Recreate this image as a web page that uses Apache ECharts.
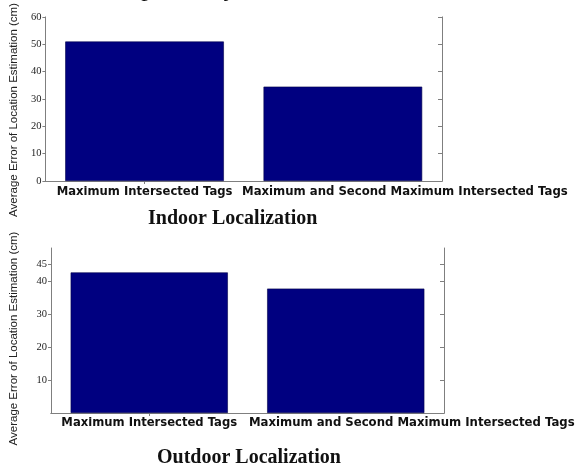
<!DOCTYPE html>
<html>
<head>
<meta charset="utf-8">
<script src="https://cdn.jsdelivr.net/npm/echarts@6/dist/echarts.min.js"></script>
<style>
  html, body { margin: 0; padding: 0; background: #fff; }
  #main { width: 578px; height: 464px; }
</style>
</head>
<body>
<div id="main"></div>
<script>
// data
const categories = ["Maximum Intersected Tags", "Maximum and Second Maximum Intersected Tags"];
const indoorError = [51.0, 34.5];
const outdoorError = [42.6, 37.7];
const indoorTicks = [0, 10, 20, 30, 40, 50, 60];
const outdoorTicks = [10, 20, 30, 40, 45];
const yName = "Average Error of Location Estimation (cm)";
const titles = ["Indoor Localization", "Outdoor Localization"];

const chart = echarts.init(document.getElementById("main"), null, { renderer: "canvas" });

const axisGray = "#7f7f7f";
const barColor = "#000080";

// label of 2nd category sits to the right of its bar in the original
function catLabel(shift, margin) {
  return {
    interval: 0,
    margin: margin,
    formatter: (v, i) => (i === 0 ? "{a|" + v + "}" : "{b|" + v + "}"),
    rich: {
      a: { fontFamily: "DejaVu Sans", fontWeight: "bold", fontSize: 11.6, color: "#111" },
      b: { fontFamily: "DejaVu Sans", fontWeight: "bold", fontSize: 11.7, color: "#111", padding: [0, 0, 0, shift] },
    },
  };
}

function xAxes(grid, shift, margin) {
  return [
    {
      type: "category", gridIndex: grid, data: categories, position: "bottom",
      axisLine: { lineStyle: { color: axisGray } },
      axisTick: { show: false },
      axisLabel: catLabel(shift, margin),
    },
    {
      type: "category", gridIndex: grid, data: categories, position: "top",
      axisLine: { show: true, lineStyle: { color: axisGray } },
      axisTick: { show: true, inside: true, alignWithLabel: true, length: 3, lineStyle: { color: axisGray } },
      axisLabel: { show: false },
    },
  ];
}

function yAxes(grid, max, ticks, gap, shiftDown) {
  return [
    {
      type: "value", gridIndex: grid, min: 0, max: max, position: "left",
      name: yName, nameLocation: "middle", nameGap: gap, nameRotate: 90,
      nameTextStyle: { fontFamily: "Liberation Sans", fontSize: 11.5, color: "#222", padding: [0, shiftDown, 0, 0] },
      splitLine: { show: false },
      axisLine: { show: true, lineStyle: { color: axisGray } },
      axisTick: { show: true, inside: false, length: 3, customValues: ticks, lineStyle: { color: axisGray } },
      axisLabel: { customValues: ticks, margin: 4, fontFamily: "Liberation Serif", fontSize: 10.5, color: "#222" },
    },
    {
      type: "value", gridIndex: grid, min: 0, max: max, position: "right",
      splitLine: { show: false },
      axisLine: { show: true, lineStyle: { color: axisGray } },
      axisTick: { show: true, inside: true, length: 4, customValues: ticks, lineStyle: { color: axisGray } },
      axisLabel: { show: false },
    },
  ];
}

const barStyle = { color: barColor, borderColor: "#00004a", borderWidth: 0.6 };
const titleFont = { fontFamily: "Liberation Serif", fontWeight: "bold", fontSize: 20, color: "#111" };

chart.setOption({
  animation: false,
  title: [
    { text: titles[0], left: 143, top: 204, textStyle: titleFont },
    { text: titles[1], left: 152, top: 443, textStyle: titleFont },
  ],
  graphic: [
    { type: "text", x: 98, y: 2,
      style: { text: ", respectively", font: "26px 'Liberation Serif'", fill: "#111", textVerticalAlign: "bottom" } },
  ],
  grid: [
    { left: 43, top: 16, width: 399, height: 165 },
    { left: 49, top: 248, width: 395, height: 165 },
  ],
  xAxis: [...xAxes(0, 124, 5), ...xAxes(1, 132, 4)],
  yAxis: [...yAxes(0, 60, indoorTicks, 25, 22), ...yAxes(1, 50, outdoorTicks, 31, 16)],
  series: [
    { type: "bar", xAxisIndex: 0, yAxisIndex: 0, data: indoorError, barWidth: "80%", itemStyle: barStyle },
    { type: "bar", xAxisIndex: 2, yAxisIndex: 2, data: outdoorError, barWidth: "80%", itemStyle: barStyle },
  ],
});
</script>
</body>
</html>
